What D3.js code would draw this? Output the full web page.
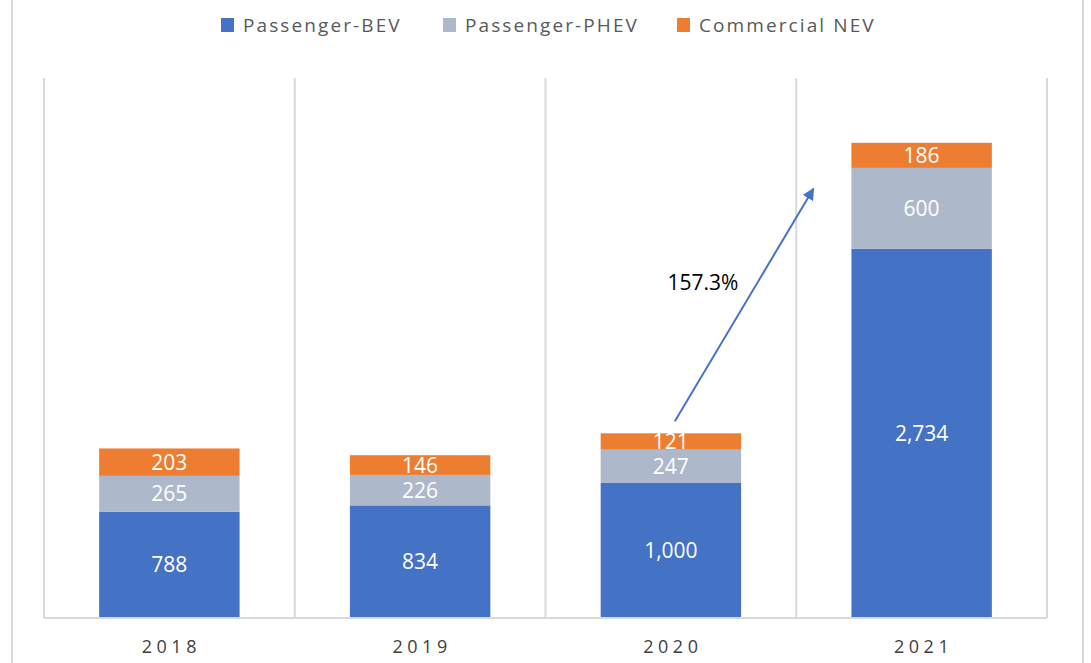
<!DOCTYPE html>
<html>
<head>
<meta charset="utf-8">
<script src="https://cdn.jsdelivr.net/npm/d3@7"></script>
<style>
  body { margin: 0; background: #fff; }
  svg { display: block; font-family: "Open Sans", "Noto Sans", sans-serif; }
</style>
</head>
<body>
<div id="chart"></div>
<script>
// data
const years = ["2018", "2019", "2020", "2021"];
const seriesNames = ["Passenger-BEV", "Passenger-PHEV", "Commercial NEV"];
const bev = [788, 834, 1000, 2734];
const phev = [265, 226, 247, 600];
const commercial = [203, 146, 121, 186];
const growthLabel = "157.3%";

const colors = ["#4472c4", "#adb9ca", "#ed7d31"];

const width = 1091, height = 663;
const plot = { left: 44, right: 1047, top: 78, bottom: 618 };

const svg = d3.select("#chart").append("svg")
  .attr("width", width)
  .attr("height", height);

// outer chart border
svg.append("rect")
  .attr("x", 12).attr("y", -2)
  .attr("width", 1071).attr("height", height + 4)
  .attr("fill", "none")
  .attr("stroke", "#d9d9d9")
  .attr("stroke-width", 2);

const rows = years.map((yr, i) => ({
  year: yr,
  "Passenger-BEV": bev[i],
  "Passenger-PHEV": phev[i],
  "Commercial NEV": commercial[i]
}));

const stacked = d3.stack().keys(seriesNames)(rows);

const x = d3.scaleBand()
  .domain(years)
  .range([plot.left, plot.right])
  .paddingInner(0.44)
  .paddingOuter(0.22);

const y = d3.scaleLinear()
  .domain([0, 4000])
  .range([plot.bottom, plot.top]);

// vertical gridlines between categories
const step = x.step();
const gridX = d3.range(years.length + 1).map(i => plot.left + i * step);
svg.append("g")
  .selectAll("line")
  .data(gridX)
  .join("line")
  .attr("x1", d => d).attr("x2", d => d)
  .attr("y1", plot.top).attr("y2", plot.bottom)
  .attr("stroke", "#d9d9d9")
  .attr("stroke-width", 2);

// bars
const layer = svg.append("g")
  .selectAll("g")
  .data(stacked)
  .join("g")
  .attr("fill", (d, i) => colors[i]);

layer.selectAll("rect")
  .data(d => d)
  .join("rect")
  .attr("x", d => x(d.data.year))
  .attr("width", x.bandwidth())
  .attr("y", d => y(d[1]))
  .attr("height", d => y(d[0]) - y(d[1]));

// baseline
svg.append("line")
  .attr("x1", plot.left).attr("x2", plot.right)
  .attr("y1", plot.bottom).attr("y2", plot.bottom)
  .attr("stroke", "#d9d9d9")
  .attr("stroke-width", 2);

// value labels
const fmt = d3.format(",");
layer.selectAll("text")
  .data(d => d)
  .join("text")
  .attr("x", d => x(d.data.year) + x.bandwidth() / 2)
  .attr("y", d => (y(d[0]) + y(d[1])) / 2)
  .attr("dy", "0.36em")
  .attr("text-anchor", "middle")
  .attr("fill", "#fff")
  .style("font-size", "21px")
  .text(d => fmt(d[1] - d[0]));

// x axis labels
svg.append("g")
  .selectAll("text")
  .data(years)
  .join("text")
  .attr("x", d => x(d) + x.bandwidth() / 2 + 2)
  .attr("y", 647)
  .attr("dy", "0.35em")
  .attr("text-anchor", "middle")
  .attr("fill", "#404040")
  .style("font-size", "18px")
  .style("letter-spacing", "4.5px")
  .text(d => d);

// legend
const legendX = [221, 443, 677];
const legend = svg.append("g")
  .selectAll("g")
  .data(seriesNames)
  .join("g")
  .attr("transform", (d, i) => `translate(${legendX[i]},25)`);

legend.append("rect")
  .attr("x", 0).attr("y", -7)
  .attr("width", 13).attr("height", 14)
  .attr("fill", (d, i) => colors[i]);

legend.append("text")
  .attr("x", 22)
  .attr("dy", "0.35em")
  .attr("fill", "#595959")
  .style("font-size", "19px")
  .style("letter-spacing", "2.1px")
  .text(d => d);

// growth arrow 2020 -> 2021
const total = years.map((yr, i) => bev[i] + phev[i] + commercial[i]);
svg.append("defs").append("marker")
  .attr("id", "arrowhead")
  .attr("viewBox", "0 0 10 10")
  .attr("refX", 9).attr("refY", 5)
  .attr("markerWidth", 6).attr("markerHeight", 6)
  .attr("orient", "auto")
  .append("path")
  .attr("d", "M0,0L10,5L0,10z")
  .attr("fill", "#4472c4");

const ax1 = x("2020") + x.bandwidth() / 2 + 4;
const ay1 = y(total[2] + 90);
const ax2 = x("2021") - 38;
const ay2 = y(total[3] - 340);

svg.append("line")
  .attr("x1", ax1).attr("y1", ay1)
  .attr("x2", ax2).attr("y2", ay2)
  .attr("stroke", "#4472c4")
  .attr("stroke-width", 2)
  .attr("marker-end", "url(#arrowhead)");

svg.append("text")
  .attr("x", 703)
  .attr("y", 283)
  .attr("dy", "0.35em")
  .attr("text-anchor", "middle")
  .attr("fill", "#000")
  .style("font-size", "21px")
  .text(growthLabel);
</script>
</body>
</html>
